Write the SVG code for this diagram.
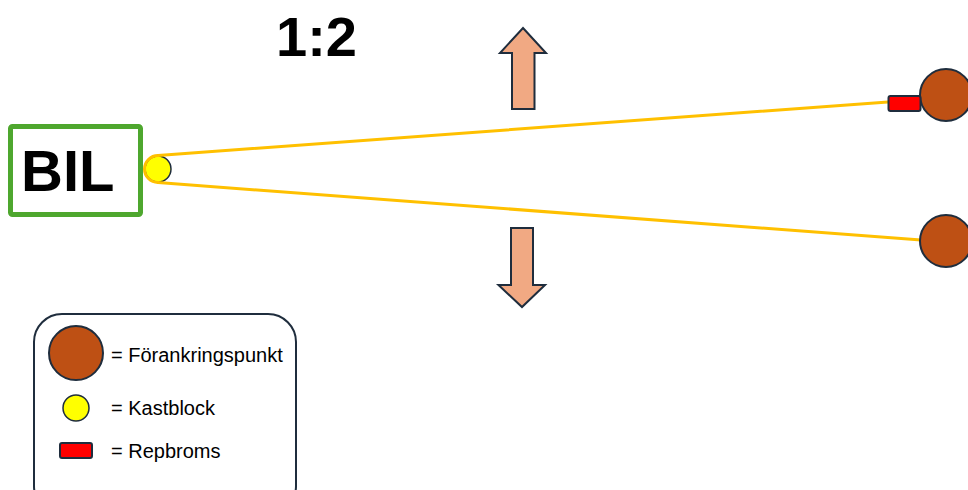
<svg xmlns="http://www.w3.org/2000/svg" width="968" height="490" viewBox="0 0 968 490">
<style>
.anchor{fill:#BE5014;stroke:#1F2D3D;stroke-width:2}
.block{fill:#FFFF00;stroke:#1F2D3D;stroke-width:1.5}
.brake{fill:#FF0000;stroke:#1F2D3D;stroke-width:2}
.rope{fill:none;stroke:#FFC000;stroke-width:3;stroke-linecap:round}
.arrow{fill:#F1A983;stroke:#1F2D3D;stroke-width:2;stroke-linejoin:miter}
.lbl{font-family:"Liberation Sans",Arial,sans-serif;font-size:20px;fill:#000}
.big{font-family:"Liberation Sans",Arial,sans-serif;font-weight:bold;fill:#000}
</style>
<rect width="968" height="490" fill="#fff"/>
<g id="title"><text class="big" x="276" y="56" font-size="56">1:2</text></g>
<g id="bil">
<rect x="10.5" y="126.5" width="130" height="88" rx="2" fill="#fff" stroke="#4EA72E" stroke-width="5"/>
<text class="big" x="21" y="191" font-size="58">BIL</text>
</g>
<g id="kastblock"><circle class="block" cx="158" cy="169" r="13"/></g>
<g id="connectors">
<path class="rope" d="M158,155.5 L888,102"/>
<path class="rope" d="M158,182.5 L921,240"/>
<path class="rope" d="M158,155.5 A13.5,13.5 0 0 0 158,182.5"/>
</g>
<g id="anchor-top"><circle class="anchor" cx="946" cy="95" r="26"/></g>
<g id="brake"><rect class="brake" x="888.5" y="96" width="32" height="15" rx="2"/></g>
<g id="anchor-bottom"><circle class="anchor" cx="946" cy="241" r="26"/></g>
<g id="arrow-up"><path class="arrow" d="M523,28 L546,53 L534.5,53 L534.5,109 L512,109 L512,53 L500,53 Z"/></g>
<g id="arrow-down"><path class="arrow" d="M511,228 L533,228 L533,285 L545,285 L522,307 L498.5,285 L511,285 Z"/></g>
<g id="legend">
<rect x="34" y="314" width="262" height="200" rx="28" fill="#fff" stroke="#1F2D3D" stroke-width="2"/>
<circle class="anchor" cx="76" cy="353" r="27"/>
<circle class="block" cx="76" cy="408" r="13"/>
<rect class="brake" x="60" y="443" width="32" height="15" rx="2"/>
<text class="lbl" x="111" y="362">= Förankringspunkt</text>
<text class="lbl" x="111" y="415">= Kastblock</text>
<text class="lbl" x="111" y="458">= Repbroms</text>
</g>
</svg>
